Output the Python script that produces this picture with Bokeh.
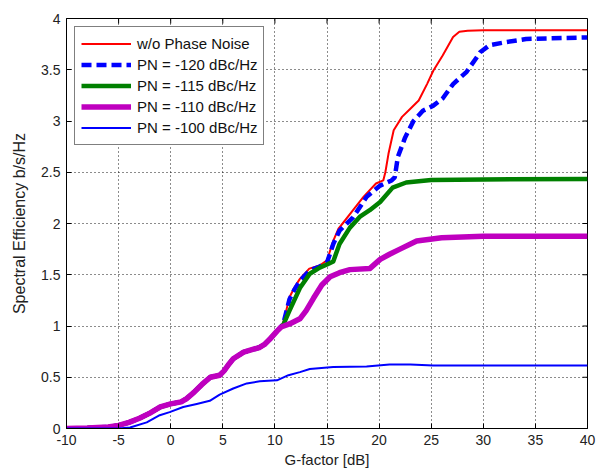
import math
from bokeh.plotting import figure
from bokeh.models import Range1d, FixedTicker, CustomJSTickFormatter, Legend, LegendItem
from bokeh.embed import file_html
from bokeh.resources import INLINE

# ---------------- data ----------------
x_ticks = [-10, -5, 0, 5, 10, 15, 20, 25, 30, 35, 40]
y_ticks = [0, 0.5, 1, 1.5, 2, 2.5, 3, 3.5, 4]

names = ["w/o Phase Noise", "PN = -120 dBc/Hz", "PN = -115 dBc/Hz",
         "PN = -110 dBc/Hz", "PN = -100 dBc/Hz"]

x_nopn = [-10, -8, -6, -5, -4, -3, -2, -1, 0, 1, 1.5, 2.2, 3, 3.8, 4.7, 5.1, 5.6, 6, 7,
          8.5, 9, 9.5, 10.2, 10.8, 11.4, 11.9, 12.4, 13.3, 14.3, 15.0, 15.6, 16.1, 16.5,
          17.5, 18.5, 19.7, 20.4, 20.6, 20.9, 21.4, 22.2, 23.0, 23.8, 24.6, 25.2, 26.1,
          27.1, 27.7, 28.5, 30, 40]
y_nopn = [0, 0.005, 0.015, 0.03, 0.06, 0.1, 0.15, 0.21, 0.24, 0.26, 0.29, 0.35, 0.43, 0.5,
          0.52, 0.56, 0.63, 0.68, 0.745, 0.79, 0.82, 0.87, 0.95, 1.03, 1.28, 1.38, 1.46,
          1.56, 1.59, 1.64, 1.83, 1.95, 2.0, 2.13, 2.26, 2.39, 2.42, 2.5, 2.68, 2.91, 3.04,
          3.12, 3.2, 3.36, 3.49, 3.64, 3.82, 3.87, 3.88, 3.885, 3.885]

x_pn120 = [-10, -8, -6, -5, -4, -3, -2, -1, 0, 1, 1.5, 2.2, 3, 3.8, 4.7, 5.1, 5.6, 6, 7,
           8.5, 9, 9.5, 10.2, 10.8, 11.4, 11.9, 12.4, 13.3, 14.3, 15.0, 15.6, 16.2, 17.5,
           18.8, 20.1, 21.2, 21.5, 21.8, 22.5, 23.3, 24.2, 25.2, 26.1, 27.1, 28.4, 29.7,
           30.6, 32.2, 34.1, 40]
y_pn120 = [0, 0.005, 0.015, 0.03, 0.06, 0.1, 0.15, 0.21, 0.24, 0.26, 0.29, 0.35, 0.43, 0.5,
           0.52, 0.56, 0.63, 0.68, 0.745, 0.79, 0.82, 0.87, 0.95, 1.02, 1.26, 1.36, 1.44,
           1.54, 1.58, 1.62, 1.8, 1.93, 2.06, 2.26, 2.37, 2.42, 2.45, 2.65, 2.84, 3.0,
           3.1, 3.15, 3.22, 3.36, 3.48, 3.67, 3.74, 3.77, 3.8, 3.815]

x_pn115 = [-10, -8, -6, -5, -4, -3, -2, -1, 0, 1, 1.5, 2.2, 3, 3.8, 4.7, 5.1, 5.6, 6, 7,
           8.5, 9, 9.5, 10.2, 10.8, 11.4, 12.4, 13.35, 14.3, 15.0, 15.6, 16.2, 17.2, 18.2,
           19.1, 20.1, 21.3, 22.6, 25, 30, 40]
y_pn115 = [0, 0.005, 0.015, 0.03, 0.06, 0.1, 0.15, 0.21, 0.24, 0.26, 0.29, 0.35, 0.43, 0.5,
           0.52, 0.56, 0.63, 0.68, 0.745, 0.79, 0.82, 0.87, 0.95, 1.01, 1.15, 1.37, 1.51,
           1.57, 1.6, 1.63, 1.8, 1.96, 2.07, 2.13, 2.21, 2.35, 2.4, 2.425, 2.43, 2.435]

x_pn110 = [-10, -8, -6, -5, -4, -3, -2, -1, 0, 1, 1.5, 2.2, 3, 3.8, 4.7, 5.1, 5.6, 6, 7,
           8.5, 9, 9.5, 10.2, 10.6, 11.4, 12.4, 13.0, 13.7, 14.5, 15.3, 16.2, 17.2, 19.1,
           20.1, 21.0, 22.0, 23.6, 26, 30, 40]
y_pn110 = [0, 0.005, 0.015, 0.03, 0.06, 0.1, 0.15, 0.21, 0.24, 0.26, 0.29, 0.35, 0.43, 0.5,
           0.52, 0.56, 0.63, 0.68, 0.745, 0.79, 0.82, 0.87, 0.95, 0.99, 1.02, 1.07, 1.15,
           1.27, 1.4, 1.48, 1.52, 1.55, 1.56, 1.65, 1.7, 1.75, 1.83, 1.86, 1.875, 1.875]

x_pn100 = [-10, -5, -3.9, -2.3, -1.05, -0.1, 1.2, 2.5, 3.75, 4.7, 6.0, 7.3, 8.55, 10.2,
           11.3, 12.4, 13.35, 15.6, 18.8, 21, 23, 25.2, 40]
y_pn100 = [0, 0, 0.01, 0.06, 0.13, 0.16, 0.21, 0.24, 0.27, 0.33, 0.39, 0.44, 0.46, 0.47,
           0.52, 0.55, 0.58, 0.6, 0.605, 0.624, 0.624, 0.615, 0.615]

# ---------------- figure ----------------
FONT = "Liberation Sans"
X0, X1, Y0, Y1 = -10, 40, 0, 4
p = figure(width=598, height=470, output_backend="svg", toolbar_location=None,
           x_range=Range1d(X0, X1), y_range=Range1d(Y0, Y1),
           min_border_left=66, min_border_right=11, min_border_top=18, min_border_bottom=42,
           background_fill_color="white", border_fill_color="white")
p.outline_line_color = "black"
p.outline_line_width = 1

fmt = CustomJSTickFormatter(code="return tick.toString();")

for ax in (p.xaxis[0], p.yaxis[0]):
    ax.formatter = fmt
    ax.major_tick_in = 5
    ax.major_tick_out = 0
    ax.minor_tick_line_color = None
    ax.axis_line_color = "black"
    ax.major_tick_line_color = "black"
    ax.major_label_text_font = FONT
    ax.major_label_text_font_size = "14px"
    ax.major_label_text_color = "#222222"
    ax.axis_label_text_font = FONT
    ax.axis_label_text_font_style = "normal"
    ax.axis_label_text_color = "#222222"

p.xaxis[0].ticker = FixedTicker(ticks=x_ticks)
p.yaxis[0].ticker = FixedTicker(ticks=y_ticks)
p.xaxis[0].axis_label = "G-factor [dB]"
p.xaxis[0].axis_label_text_font_size = "15px"
p.xaxis[0].major_label_standoff = 6
p.xaxis[0].axis_label_standoff = 3
p.yaxis[0].axis_label = "Spectral Efficiency b/s/Hz"
p.yaxis[0].axis_label_text_font_size = "16px"
p.yaxis[0].major_label_standoff = 6
p.yaxis[0].axis_label_standoff = 10

# inward ticks on top and right edges (box on)
p.ray(x=x_ticks, y=[Y1] * len(x_ticks), length=5, length_units="screen",
      angle=-math.pi / 2, line_color="black", line_width=1)
p.ray(x=[X1] * len(y_ticks), y=y_ticks, length=5, length_units="screen",
      angle=math.pi, line_color="black", line_width=1)

p.xgrid.ticker = FixedTicker(ticks=x_ticks)
p.ygrid.ticker = FixedTicker(ticks=y_ticks)
for g in (p.xgrid[0], p.ygrid[0]):
    g.grid_line_color = "black"
    g.grid_line_alpha = 0.9
    g.grid_line_dash = "1 3"
    g.grid_line_width = 1

r1 = p.line(x_nopn, y_nopn, line_color="#ff0000", line_width=2, line_join="round")
r2 = p.line(x_pn120, y_pn120, line_color="#0000ff", line_width=4.5, line_dash="10 5")
r3 = p.line(x_pn115, y_pn115, line_color="#008000", line_width=4.5, line_join="round")
r4 = p.line(x_pn110, y_pn110, line_color="#bf00bf", line_width=5.5, line_join="round")
r5 = p.line(x_pn100, y_pn100, line_color="#0000ff", line_width=2, line_join="round")

legend = Legend(items=[LegendItem(label=n, renderers=[r]) for n, r in
                       zip(names, [r1, r2, r3, r4, r5])],
                location="top_left", margin=8, padding=6, spacing=0,
                label_height=21, glyph_height=21, glyph_width=50, label_standoff=6,
                label_text_font=FONT, label_text_font_size="15px",
                label_text_color="#111111",
                border_line_color="black", border_line_width=1,
                background_fill_color="white", background_fill_alpha=1)
p.add_layout(legend)

open("out.html", "w").write(file_html(p, INLINE))
